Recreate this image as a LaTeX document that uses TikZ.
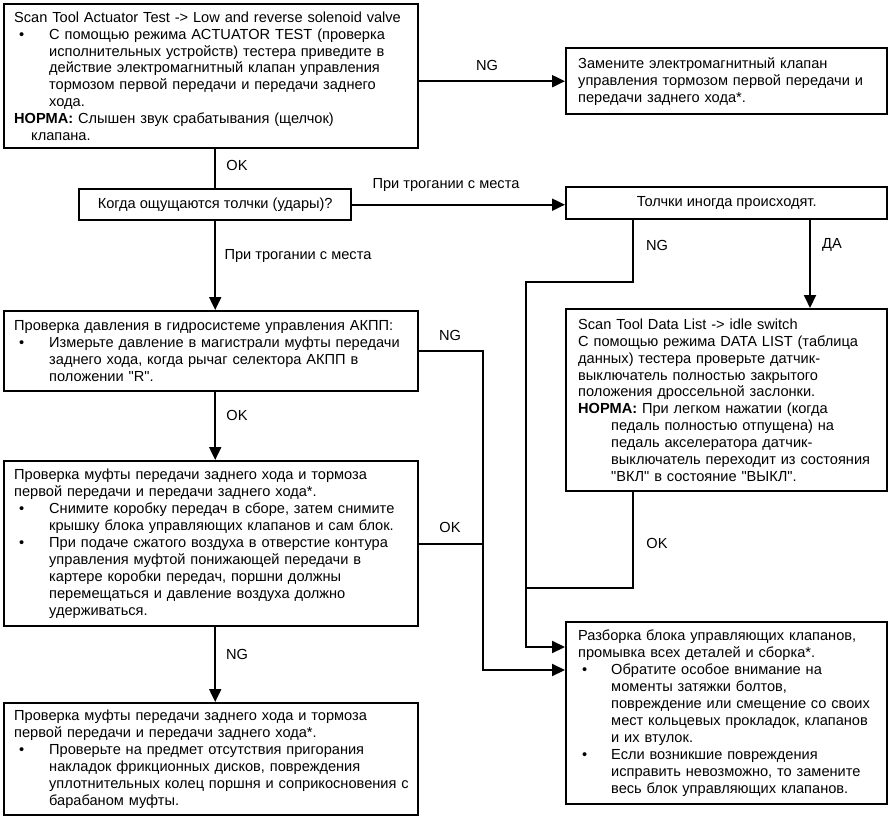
\documentclass[tikz,border=0pt]{standalone}
\usepackage{fontspec}
\setmainfont{Liberation Sans}[Ligatures=TeXOff]
\usetikzlibrary{arrows.meta,calc}
\newcommand{\Lin}[1]{\mbox{#1}}
\newcommand{\BulL}[1]{\mbox{\makebox[35pt][l]{\hspace{5pt}•}#1}}
\newcommand{\IndL}[1]{\mbox{\hspace*{35pt}#1}}
\newcommand{\BulR}[1]{\mbox{\makebox[33pt][l]{\hspace{4pt}•}#1}}
\newcommand{\IndR}[1]{\mbox{\hspace*{33pt}#1}}
\newcommand{\IndN}[2]{\mbox{\hspace*{#1}#2}}
\begin{document}
\begin{tikzpicture}[x=1pt,y=-1pt,
  box/.style={draw, line width=2.4pt, anchor=north west, inner xsep=0pt, inner ysep=0pt,
    align=left, font=\fontsize{14.6pt}{16.9pt}\selectfont},
  lbl/.style={font=\fontsize{14.6pt}{16.9pt}\selectfont, inner sep=0pt},
  conn/.style={line width=2pt},
  arr/.style={conn, -{Triangle[length=13pt,width=12pt]}}]
\useasboundingbox (0,0) rectangle (891,819);

% left column boxes
\node[box, minimum width=414pt, minimum height=144pt, text width=394pt] (b1) at (3,3) {%
\Lin{Scan Tool Actuator Test -> Low and reverse solenoid valve}\\
\BulL{С помощью режима ACTUATOR TEST (проверка}\\
\IndL{исполнительных устройств) тестера приведите в}\\
\IndL{действие электромагнитный клапан управления}\\
\IndL{тормозом первой передачи и передачи заднего}\\
\IndL{хода.}\\
\Lin{\textbf{НОРМА:} Слышен звук срабатывания (щелчок)}\\
\IndN{17pt}{клапана.}};

\node[box, minimum width=272pt, minimum height=31pt, align=center] (dec) at (78,188) {Когда ощущаются толчки (удары)?};

\node[box, minimum width=414pt, minimum height=80pt, text width=394pt] (b3) at (3,310) {%
\Lin{Проверка давления в гидросистеме управления АКПП:}\\
\BulL{Измерьте давление в магистрали муфты передачи}\\
\IndL{заднего хода, когда рычаг селектора АКПП в}\\
\IndL{положении "R".}};

\node[box, minimum width=414pt, minimum height=165pt, text width=394pt] (b4) at (3,460) {%
\Lin{Проверка муфты передачи заднего хода и тормоза}\\
\Lin{первой передачи и передачи заднего хода*.}\\
\BulL{Снимите коробку передач в сборе, затем снимите}\\
\IndL{крышку блока управляющих клапанов и сам блок.}\\
\BulL{При подаче сжатого воздуха в отверстие контура}\\
\IndL{управления муфтой понижающей передачи в}\\
\IndL{картере коробки передач, поршни должны}\\
\IndL{перемещаться и давление воздуха должно}\\
\IndL{удерживаться.}};

\node[box, minimum width=414pt, minimum height=112pt, text width=394pt] (b5) at (3,702) {%
\Lin{Проверка муфты передачи заднего хода и тормоза}\\
\Lin{первой передачи и передачи заднего хода*.}\\
\BulL{Проверьте на предмет отсутствия пригорания}\\
\IndL{накладок фрикционных дисков, повреждения}\\
\IndL{уплотнительных колец поршня и соприкосновения с}\\
\IndL{барабаном муфты.}};

% right column boxes
\node[box, minimum width=321pt, minimum height=66pt, text width=297pt] (rep) at (565,47) {%
\Lin{Замените электромагнитный клапан}\\
\Lin{управления тормозом первой передачи и}\\
\Lin{передачи заднего хода*.}};

\node[box, minimum width=321pt, minimum height=32pt, align=center] (tol) at (565,186) {Толчки иногда происходят.};

\node[box, minimum width=321pt, minimum height=182pt, text width=297pt] (dl) at (565,308) {%
\Lin{Scan Tool Data List -> idle switch}\\
\Lin{С помощью режима DATA LIST (таблица}\\
\Lin{данных) тестера проверьте датчик-}\\
\Lin{выключатель полностью закрытого}\\
\Lin{положения дроссельной заслонки.}\\
\Lin{\textbf{НОРМА:} При легком нажатии (когда}\\
\IndR{педаль полностью отпущена) на}\\
\IndR{педаль акселератора датчик-}\\
\IndR{выключатель переходит из состояния}\\
\IndR{"ВКЛ" в состояние "ВЫКЛ".}};

\node[box, minimum width=321pt, minimum height=182pt, text width=297pt] (raz) at (565,621) {%
\Lin{Разборка блока управляющих клапанов,}\\
\Lin{промывка всех деталей и сборка*.}\\
\BulR{Обратите особое внимание на}\\
\IndR{моменты затяжки болтов,}\\
\IndR{повреждение или смещение со своих}\\
\IndR{мест кольцевых прокладок, клапанов}\\
\IndR{и их втулок.}\\
\BulR{Если возникшие повреждения}\\
\IndR{исправить невозможно, то замените}\\
\IndR{весь блок управляющих клапанов.}};

% routing coordinates
\coordinate (ngT) at (633,282);
\coordinate (xA) at (526,647);
\coordinate (xB) at (483,670);
\coordinate (xD) at (810,0);
\coordinate (dlOK) at (633,588);

% connectors
\draw[arr] (b1.east |- rep.west) -- (rep.west);
\draw[conn] (b1.south -| dec.north) -- (dec.north);
\draw[arr] (dec.east) -- (dec.east -| tol.west);
\draw[arr] (dec.south) -- (dec.south |- b3.north);
\draw[arr] (b3.south -| dec.south) -- (b4.north -| dec.south);
\draw[arr] (b4.south -| dec.south) -- (b5.north -| dec.south);
\draw[arr] (tol.south -| ngT) -- (ngT) -| (xA) -- (xA -| raz.west);
\draw[arr] (tol.south -| xD) -- (dl.north -| xD);
\draw[arr] (b3.east) -| (xB) -- (xB -| raz.west);
\draw[conn] (b4.east) -- (b4.east -| xB);
\draw[conn] (dl.south -| dlOK) -- (dlOK) -- (dlOK -| xA);

% labels
\node[lbl] (lNG1) at (487,65) {NG};
\node[lbl] (lOK1) at (237,165) {OK};
\node[lbl] (lPr1) at (446,185) {При трогании с места};
\node[lbl] (lPr2) at (298,256) {При трогании с места};
\node[lbl] (lNG2) at (657,245) {NG};
\node[lbl] (lDA) at (832,245) {ДА};
\node[lbl] (lNG3) at (450,335) {NG};
\node[lbl] (lOK2) at (237,415) {OK};
\node[lbl] (lOK3) at (450,527) {OK};
\node[lbl] (lOK4) at (657,543) {OK};
\node[lbl] (lNG4) at (237,654) {NG};
\end{tikzpicture}
\end{document}
